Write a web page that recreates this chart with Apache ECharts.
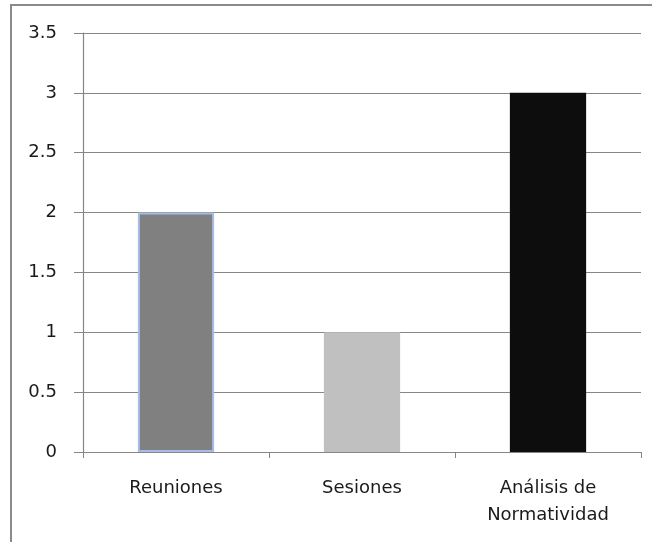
<!DOCTYPE html>
<html>
<head>
<meta charset="utf-8">
<script src="https://cdn.jsdelivr.net/npm/echarts@6/dist/echarts.min.js"></script>
<style>
  html, body { margin: 0; padding: 0; background: #fff; }
  #chart { width: 652px; height: 542px; }
</style>
</head>
<body>
<div id="chart"></div>
<script>
// data
const categories = ["Reuniones", "Sesiones", "Análisis de\nNormatividad"];
const values = [2, 1, 3];
const barColors = ["#808080", "#c0c0c0", "#0d0d0d"];

const chart = echarts.init(document.getElementById("chart"));

const option = {
  animation: false,
  backgroundColor: "#fff",
  graphic: [
    {
      type: "rect",
      shape: { x: 11, y: 5, width: 700, height: 600 },
      style: { fill: "none", stroke: "#8a8a8a", lineWidth: 2 },
      z: 100
    }
  ],
  grid: { left: 83, right: 11, top: 33, bottom: 90 },
  xAxis: {
    type: "category",
    data: categories,
    axisLine: { lineStyle: { color: "#868686", width: 1.2 } },
    axisTick: { show: true, length: 6, alignWithLabel: false, lineStyle: { color: "#868686" } },
    axisLabel: {
      color: "#1a1a1a",
      fontFamily: "DejaVu Sans",
      fontSize: 18,
      margin: 23,
      lineHeight: 27,
      interval: 0
    }
  },
  yAxis: {
    type: "value",
    min: 0,
    max: 3.5,
    interval: 0.5,
    axisLine: { show: true, lineStyle: { color: "#868686", width: 1.2 } },
    axisTick: { show: true, inside: false, length: 9, lineStyle: { color: "#868686" } },
    axisLabel: {
      color: "#1a1a1a",
      fontFamily: "DejaVu Sans",
      fontSize: 18,
      margin: 26
    },
    splitLine: { show: true, lineStyle: { color: "#868686", width: 1.2 } }
  },
  series: [
    {
      type: "bar",
      barWidth: "41%",
      data: values.map((v, i) => ({
        value: v,
        itemStyle: {
          color: barColors[i],
          borderColor: i === 0 ? "#a8bce8" : barColors[i],
          borderWidth: i === 0 ? 2 : 0
        }
      }))
    }
  ]
};

chart.setOption(option);
</script>
</body>
</html>
